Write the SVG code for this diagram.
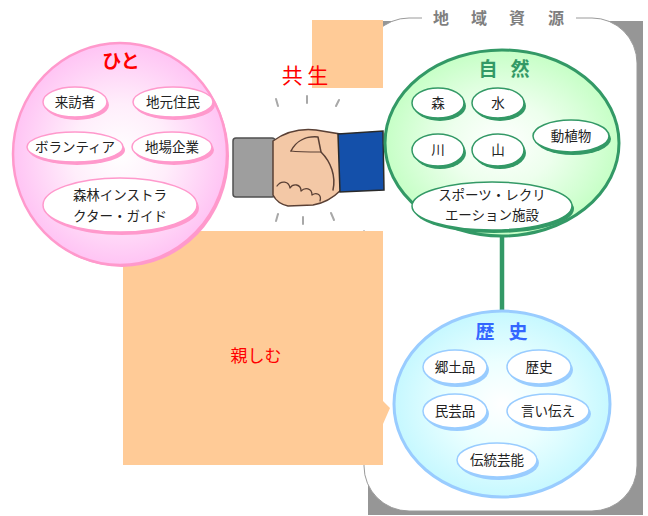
<svg xmlns="http://www.w3.org/2000/svg" width="648" height="516" viewBox="0 0 648 516">
  <defs>
    <radialGradient id="gPink" cx="50%" cy="50%" r="50%">
      <stop offset="0" stop-color="#FFFFFF"/>
      <stop offset="0.45" stop-color="#FFEEFB"/>
      <stop offset="1" stop-color="#FFC4F4"/>
    </radialGradient>
    <radialGradient id="gGreen" cx="50%" cy="50%" r="50%">
      <stop offset="0" stop-color="#FFFFFF"/>
      <stop offset="0.45" stop-color="#EDFFED"/>
      <stop offset="1" stop-color="#C6FFC6"/>
    </radialGradient>
    <radialGradient id="gBlue" cx="50%" cy="50%" r="50%">
      <stop offset="0" stop-color="#FFFFFF"/>
      <stop offset="0.45" stop-color="#ECFFFF"/>
      <stop offset="1" stop-color="#C6F8FF"/>
    </radialGradient>
    <style>
      .lbl { font-family: "Noto Sans CJK JP", "Noto Sans", sans-serif; font-size: 13.5px; fill: #222; text-anchor: middle; }
      .head { font-family: "Noto Sans CJK JP", "Noto Sans", sans-serif; font-weight: bold; text-anchor: middle; }
      .red { font-family: "Noto Sans CJK JP", "Noto Sans", sans-serif; font-weight: normal; text-anchor: middle; fill: #FF0000; }
      .orange { fill: #FFCB97; }
      .pinkSh { fill: #FF99CC; }
      .pinkEl { fill: #FFFFFF; stroke: #FF99CC; stroke-width: 1.5; }
      .greenSh { fill: #339966; }
      .greenEl { fill: #FFFFFF; stroke: #339966; stroke-width: 1.5; }
      .blueSh { fill: #99CCFF; }
      .blueEl { fill: #FFFFFF; stroke: #99CCFF; stroke-width: 1.5; }
      .spark { stroke: #A8A8A8; stroke-width: 2; stroke-linecap: round; }
      .ink { fill: none; stroke: #5A4035; stroke-linecap: round; stroke-linejoin: round; }
    </style>
  </defs>

  <rect width="648" height="516" fill="#FFFFFF"/>

  <!-- regional resources panel with drop shadow -->
  <g id="panel">
    <rect x="368" y="21" width="275" height="494" fill="#969696"/>
    <rect x="364" y="18" width="273" height="493" rx="45" ry="45" fill="#FFFFFF" stroke="#9A9A9A" stroke-width="1"/>
    <rect x="422" y="8" width="154" height="20" fill="#FFFFFF"/>
    <text class="head" y="24" font-size="16" fill="#7F7F7F" x="441 479 517 556">地域資源</text>
  </g>

  <!-- orange backdrop shapes -->
  <g id="backdrop">
    <rect class="orange" x="312" y="20" width="71" height="68"/>
    <path class="orange" d="M123,231 H383 V401 L390,408 L383,424 V465 H123 Z"/>
    <text class="red" x="256" y="362" font-size="17">親しむ</text>
  </g>

  <!-- handshake -->
  <g id="handshake">
    <rect x="228" y="88" width="156" height="142" fill="#FFFFFF"/>
    <line class="spark" x1="276" y1="99" x2="278" y2="106"/>
    <line class="spark" x1="307" y1="96" x2="307" y2="103"/>
    <line class="spark" x1="339" y1="100" x2="336" y2="106"/>
    <line class="spark" x1="278" y1="214" x2="276" y2="221"/>
    <line class="spark" x1="303" y1="217" x2="303" y2="224"/>
    <line class="spark" x1="331" y1="213" x2="334" y2="220"/>
    <rect x="233" y="138" width="42" height="59" rx="3" fill="#9E9E9E" stroke="#505050" stroke-width="1.5"/>
    <path d="M273,141 C284,133 298,128 316,130 L340,134 L341,190 C334,197 326,203 313,205 L288,206 C279,204 275,199 273,195 Z" fill="#F3C8A6" stroke="#5A4035" stroke-width="1.5"/>
    <path class="ink" stroke-width="1.5" d="M291,151 C296,141 306,136 318,137 L321,152 C331,162 336,176 333,190"/>
    <path class="ink" stroke-width="1.2" d="M291,151 C298,152 308,152 321,152"/>
    <path class="ink" stroke-width="1.3" d="M277,186 C281,180 289,181 290,188 C293,183 301,184 301,191 C305,187 312,188 312,195 C316,192 322,194 320,201"/>
    <path d="M338,134 L383,131 L384,190 L340,192 Z" fill="#1450AA" stroke="#2A2A2A" stroke-width="1.5"/>
    <text class="red" x="305" y="83" font-size="21">共 生</text>
  </g>

  <!-- connector between nature and history -->
  <g id="connectors">
    <line x1="502" y1="234" x2="502" y2="314" stroke="#339966" stroke-width="4.5"/>
  </g>

  <!-- people -->
  <g id="people">
    <ellipse cx="122" cy="156" rx="107" ry="111" fill="#FF99CC"/>
    <ellipse cx="120" cy="154" rx="107" ry="111" fill="url(#gPink)" stroke="#FF99CC" stroke-width="2.5"/>
    <text class="head" x="121" y="68" font-size="19" fill="#FF0000">ひと</text>
    <g id="p-visitor">
      <ellipse class="pinkSh" cx="77" cy="105" rx="32" ry="15"/>
      <ellipse class="pinkEl" cx="75" cy="102" rx="32" ry="15"/>
      <text class="lbl" x="75" y="107">来訪者</text>
    </g>
    <g id="p-residents">
      <ellipse class="pinkSh" cx="175" cy="105" rx="40" ry="15"/>
      <ellipse class="pinkEl" cx="173" cy="102" rx="40" ry="15"/>
      <text class="lbl" x="173" y="107">地元住民</text>
    </g>
    <g id="p-volunteer">
      <ellipse class="pinkSh" cx="77" cy="150" rx="48" ry="15"/>
      <ellipse class="pinkEl" cx="75" cy="147" rx="48" ry="15"/>
      <text class="lbl" x="75" y="152">ボランティア</text>
    </g>
    <g id="p-business">
      <ellipse class="pinkSh" cx="174" cy="150" rx="40" ry="15"/>
      <ellipse class="pinkEl" cx="172" cy="147" rx="40" ry="15"/>
      <text class="lbl" x="172" y="152">地場企業</text>
    </g>
    <g id="p-guide">
      <ellipse class="pinkSh" cx="122" cy="208" rx="77" ry="27"/>
      <ellipse class="pinkEl" cx="120" cy="205" rx="77" ry="27"/>
      <text class="lbl" x="120" y="200">森林インストラ</text>
      <text class="lbl" x="120" y="221">クター・ガイド</text>
    </g>
  </g>

  <!-- nature -->
  <g id="nature">
    <ellipse cx="502" cy="143" rx="117" ry="93" fill="url(#gGreen)" stroke="#339966" stroke-width="3"/>
    <text class="head" y="76" font-size="19" fill="#339966" x="488 520">自然</text>
    <g id="n-forest">
      <ellipse class="greenSh" cx="440" cy="106" rx="26" ry="15"/>
      <ellipse class="greenEl" cx="438" cy="103" rx="26" ry="15"/>
      <text class="lbl" x="438" y="108">森</text>
    </g>
    <g id="n-water">
      <ellipse class="greenSh" cx="500" cy="106" rx="26" ry="15"/>
      <ellipse class="greenEl" cx="498" cy="103" rx="26" ry="15"/>
      <text class="lbl" x="498" y="108">水</text>
    </g>
    <g id="n-river">
      <ellipse class="greenSh" cx="440" cy="153" rx="26" ry="16"/>
      <ellipse class="greenEl" cx="438" cy="150" rx="26" ry="16"/>
      <text class="lbl" x="438" y="155">川</text>
    </g>
    <g id="n-mountain">
      <ellipse class="greenSh" cx="500" cy="153" rx="26" ry="16"/>
      <ellipse class="greenEl" cx="498" cy="150" rx="26" ry="16"/>
      <text class="lbl" x="498" y="155">山</text>
    </g>
    <g id="n-wildlife">
      <ellipse class="greenSh" cx="573" cy="139" rx="38" ry="16"/>
      <ellipse class="greenEl" cx="571" cy="136" rx="38" ry="16"/>
      <text class="lbl" x="571" y="141">動植物</text>
    </g>
    <g id="n-recreation">
      <ellipse class="greenSh" cx="494" cy="209" rx="80" ry="24"/>
      <ellipse class="greenEl" cx="492" cy="206" rx="80" ry="24"/>
      <text class="lbl" x="492" y="200">スポーツ・レクリ</text>
      <text class="lbl" x="492" y="220">エーション施設</text>
    </g>
  </g>

  <!-- history -->
  <g id="history">
    <ellipse cx="502" cy="404" rx="108" ry="93" fill="url(#gBlue)" stroke="#99CCFF" stroke-width="3"/>
    <text class="head" y="339" font-size="19" fill="#3366FF" x="485 518">歴史</text>
    <g id="h-local-goods">
      <ellipse class="blueSh" cx="457" cy="370" rx="32" ry="17"/>
      <ellipse class="blueEl" cx="455" cy="367" rx="32" ry="17"/>
      <text class="lbl" x="455" y="372">郷土品</text>
    </g>
    <g id="h-history">
      <ellipse class="blueSh" cx="541" cy="370" rx="32" ry="17"/>
      <ellipse class="blueEl" cx="539" cy="367" rx="32" ry="17"/>
      <text class="lbl" x="539" y="372">歴史</text>
    </g>
    <g id="h-crafts">
      <ellipse class="blueSh" cx="457" cy="414" rx="32" ry="17"/>
      <ellipse class="blueEl" cx="455" cy="411" rx="32" ry="17"/>
      <text class="lbl" x="455" y="416">民芸品</text>
    </g>
    <g id="h-legends">
      <ellipse class="blueSh" cx="550" cy="414" rx="41" ry="17"/>
      <ellipse class="blueEl" cx="548" cy="411" rx="41" ry="17"/>
      <text class="lbl" x="548" y="416">言い伝え</text>
    </g>
    <g id="h-performing">
      <ellipse class="blueSh" cx="499" cy="463" rx="40" ry="17"/>
      <ellipse class="blueEl" cx="497" cy="460" rx="40" ry="17"/>
      <text class="lbl" x="497" y="465">伝統芸能</text>
    </g>
  </g>
</svg>
